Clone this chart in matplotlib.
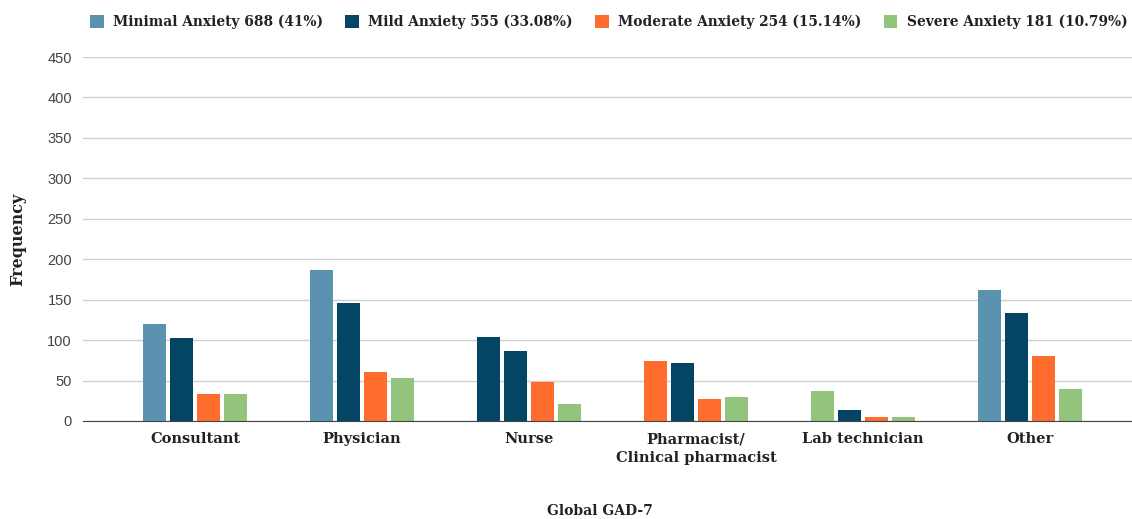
import matplotlib
matplotlib.use("Agg")
import matplotlib.pyplot as plt
import numpy as np
from matplotlib.patches import Patch

categories = ["Consultant", "Physician", "Nurse", "Pharmacist/\nClinical pharmacist", "Lab technician", "Other"]
series_labels = ["Minimal Anxiety 688 (41%)", "Mild Anxiety 555 (33.08%)",
                 "Moderate Anxiety 254 (15.14%)", "Severe Anxiety 181 (10.79%)"]
minimal = [120, 187, 104, 74, 37, 162]
mild = [102, 146, 87, 72, 14, 133]
moderate = [33, 60, 48, 27, 5, 80]
severe = [33, 53, 21, 30, 5, 39]
yticks = [0, 50, 100, 150, 200, 250, 300, 350, 400, 450]

C_MIN, C_MILD, C_MOD, C_SEV = "#5B92B0", "#034563", "#FF6D2E", "#93C47D"
series_colors = [C_MIN, C_MILD, C_MOD, C_SEV]
# per-bar colours as shown in the reference (some groups are recoloured)
bar_colors = [
    [C_MIN, C_MIN, C_MILD, C_MOD, C_SEV, C_MIN],
    [C_MILD, C_MILD, C_MILD, C_MILD, C_MILD, C_MILD],
    [C_MOD, C_MOD, C_MOD, C_MOD, C_MOD, C_MOD],
    [C_SEV, C_SEV, C_SEV, C_SEV, C_SEV, C_SEV],
]

W, H = 1132, 519
fig = plt.figure(figsize=(W / 100, H / 100), dpi=100)
ax = fig.add_axes([83 / W, (H - 421) / H, (1132 - 83) / W, (421 - 57) / H])

x = np.arange(len(categories))
stride = 0.16
bw = 0.138
data = [minimal, mild, moderate, severe]
for k, vals in enumerate(data):
    ax.bar(x + (k - 1.5) * stride, vals, width=bw, color=bar_colors[k], zorder=3,
           label=series_labels[k])

ax.set_ylim(0, 450)
ax.set_xlim((83 - 195) / 167, (1132 - 195) / 167)
ax.set_yticks(yticks)
ax.tick_params(axis="y", length=0, pad=8, labelsize=10.5, labelcolor="#444444")
for t in ax.get_yticklabels():
    t.set_fontfamily("Liberation Sans")
ax.grid(axis="y", color="#d0d0d0", linewidth=1, zorder=0)
for s in ["top", "right", "left"]:
    ax.spines[s].set_visible(False)
ax.spines["bottom"].set_color("#444444")
ax.spines["bottom"].set_zorder(4)
ax.set_xticks(x)
ax.set_xticklabels(categories, fontfamily="DejaVu Serif", fontweight="bold", fontsize=10.5,
                   color="#222222", linespacing=1.45)
ax.tick_params(axis="x", length=0, pad=8)

fig.text(18 / W, 0.5 * ((H - 421) + (H - 57)) / H, "Frequency", rotation=90, ha="center", va="center",
         fontfamily="DejaVu Serif", fontweight="bold", fontsize=11.5, color="#222222")
fig.text(600 / W, (H - 511) / H, "Global GAD-7", ha="center", va="center",
         fontfamily="DejaVu Serif", fontweight="bold", fontsize=10, color="#222222")

handles = [Patch(facecolor=c) for c in series_colors]
leg = fig.legend(handles, series_labels, loc="center left", bbox_to_anchor=(87 / W, (H - 22) / H),
                 ncol=4, frameon=False, handlelength=1.0, handleheight=1.15, handletextpad=0.7,
                 columnspacing=1.6, borderaxespad=0, borderpad=0.2,
                 prop={"family": "DejaVu Serif", "weight": "bold", "size": 9.9})
for t in leg.get_texts():
    t.set_color("#222222")

fig.savefig("out.png", dpi=100)
